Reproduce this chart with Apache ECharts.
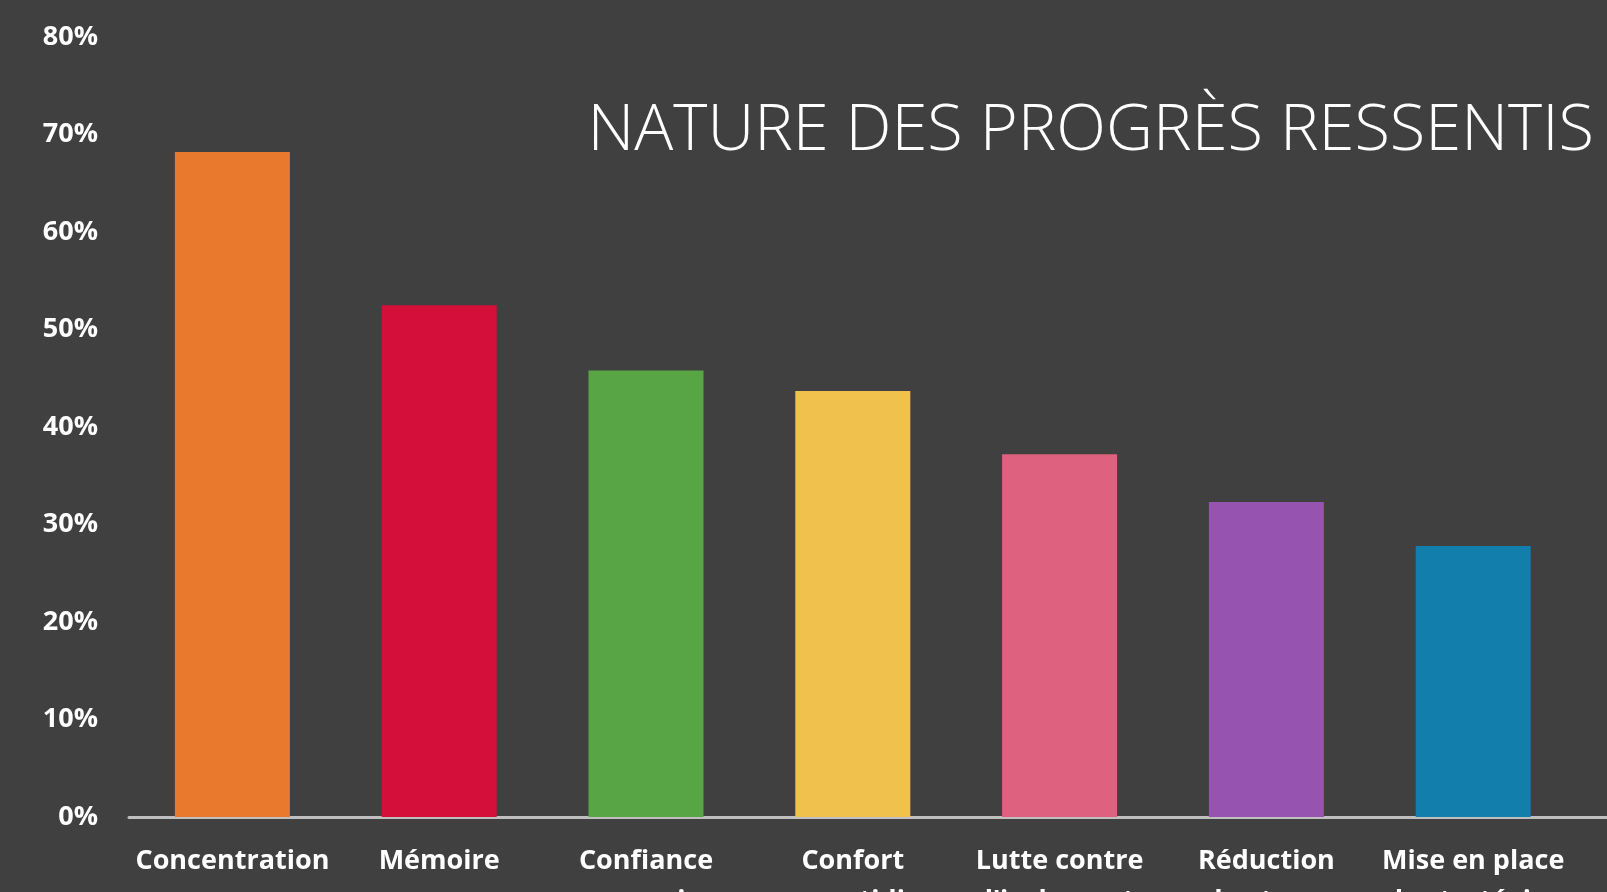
<!DOCTYPE html>
<html>
<head>
<meta charset="utf-8">
<script src="https://cdn.jsdelivr.net/npm/echarts@6/dist/echarts.min.js"></script>
<style>
html,body{margin:0;padding:0;background:#404040;}
#chart{width:1607px;height:892px;}
</style>
</head>
<body>
<div id="chart"></div>
<script>
const titleText = 'NATURE DES PROGRÈS RESSENTIS';
const categories = ['Concentration\n', 'Mémoire\n', 'Confiance\nen soi', 'Confort\nau quotidien', 'Lutte contre\nl\'isolement', 'Réduction\ndu stress', 'Mise en place\nde stratégies'];
const values = [68.2, 52.5, 45.8, 43.7, 37.2, 32.3, 27.8];
const colors = ['#E8792D', '#D4103A', '#58A545', '#F0C24D', '#DE627F', '#9653B0', '#127EAB'];
const yTicks = [0, 10, 20, 30, 40, 50, 60, 70, 80];

const chart = echarts.init(document.getElementById('chart'), null, {renderer: 'canvas'});
const xData = categories.concat(['']);
const seriesData = values.map((v, i) => ({value: v, itemStyle: {color: colors[i]}})).concat([null]);
chart.setOption({
  backgroundColor: '#404040',
  animation: false,
  title: {
    text: titleText,
    right: 8,
    top: 94,
    textStyle: {color: '#FFFFFF', fontFamily: 'Open Sans', fontWeight: 300, fontSize: 65}
  },
  grid: {left: 129, width: 8 * 206.8, top: 37, bottom: 75, containLabel: false, outerBoundsMode: 'none'},
  xAxis: {
    type: 'category',
    data: xData,
    axisLine: {show: true, lineStyle: {color: '#BFBFBF', width: 3}},
    axisTick: {show: false},
    axisLabel: {
      color: '#FFFFFF', fontFamily: 'Open Sans', fontWeight: 'bold', fontSize: 27,
      margin: 24, lineHeight: 40, interval: 0
    }
  },
  yAxis: {
    type: 'value',
    min: yTicks[0],
    max: yTicks[yTicks.length - 1],
    interval: 10,
    splitLine: {show: false},
    axisLine: {show: false},
    axisTick: {show: false},
    axisLabel: {
      color: '#FFFFFF', fontFamily: 'Open Sans', fontWeight: 'bold', fontSize: 27, margin: 31,
      formatter: v => v + '%'
    }
  },
  series: [{
    type: 'bar',
    data: seriesData,
    barWidth: 115
  }]
});
</script>
</body>
</html>
